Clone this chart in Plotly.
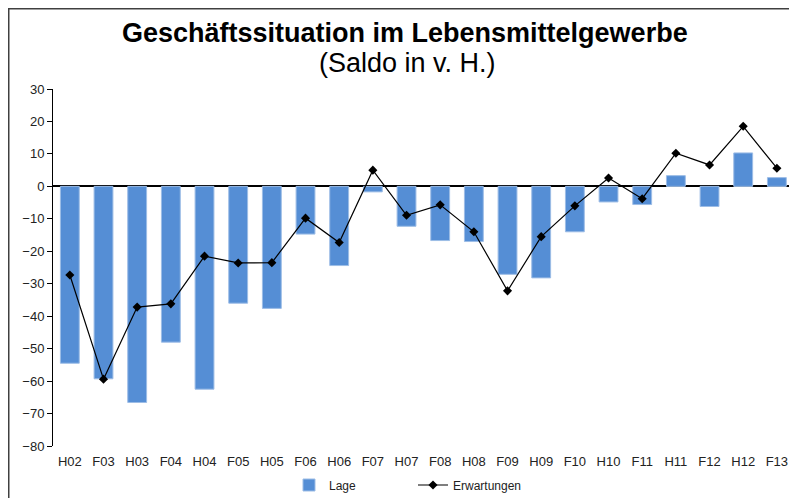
import plotly.graph_objects as go

categories = ["H02", "F03", "H03", "F04", "H04", "F05", "H05", "F06", "H06", "F07", "H07",
              "F08", "H08", "F09", "H09", "F10", "H10", "F11", "H11", "F12", "H12", "F13"]
lage = [-54.5, -59.3, -66.6, -48.0, -62.5, -36.0, -37.6, -14.7, -24.4, -1.7, -12.3,
        -16.7, -17.0, -27.1, -28.2, -14.0, -4.8, -5.6, 3.3, -6.2, 10.3, 2.7]
erwartungen = [-27.3, -59.4, -37.2, -36.2, -21.5, -23.6, -23.5, -9.8, -17.3, 5.0, -8.9,
               -5.7, -14.0, -32.2, -15.5, -6.0, 2.6, -3.8, 10.2, 6.6, 18.5, 5.6]
y_ticks = [30, 20, 10, 0, -10, -20, -30, -40, -50, -60, -70, -80]

FONT = "Liberation Sans, Arial, sans-serif"

fig = go.Figure()
fig.add_trace(go.Bar(
    x=categories, y=lage, name="Lage",
    marker=dict(color="#558ED5", line=dict(color="#9DBDE6", width=1)),
))
fig.add_trace(go.Scatter(
    x=categories, y=erwartungen, name="Erwartungen", mode="lines+markers",
    line=dict(color="#000000", width=1.2),
    marker=dict(symbol="diamond", size=7, color="#000000"),
))

# page body has an 8px margin, so figure coords = window coords - 8
W, H = 781, 490
L, T, B = 45, 81, 52
pw = W - L
ph = H - T - B

def px_x(p):
    return (p - L) / pw

def px_y(p):
    return (H - B - p) / ph

fig.update_layout(
    width=W, height=H,
    margin=dict(l=L, r=0, t=T, b=B, autoexpand=False),
    paper_bgcolor="white", plot_bgcolor="white",
    font=dict(family=FONT, size=13, color="#222222"),
    bargap=0.44,
    showlegend=True,
    legend=dict(orientation="h", x=px_x(281), y=px_y(477), xanchor="left", yanchor="middle",
                font=dict(size=12, color="#222222"), entrywidth=79, entrywidthmode="pixels",
                bgcolor="rgba(0,0,0,0)"),
    xaxis=dict(
        type="category", range=[-0.5, 21.36], showline=False, showgrid=False,
        ticks="", tickfont=dict(size=13, color="#222222"), ticklabelstandoff=6,
    ),
    yaxis=dict(
        range=[-80, 30], tickvals=y_ticks, showgrid=False,
        showline=True, linecolor="#000000", linewidth=1,
        ticks="outside", ticklen=5, tickcolor="#000000",
        zeroline=True, zerolinecolor="#000000", zerolinewidth=1.5,
        tickfont=dict(size=13, color="#222222"),
    ),
    annotations=[
        dict(text="<b>Geschäftssituation im Lebensmittelgewerbe</b>", xref="paper", yref="paper",
             x=px_x(397), y=px_y(25), xanchor="center", yanchor="middle", showarrow=False,
             font=dict(family=FONT, size=27, color="#000000")),
        dict(text="(Saldo in v. H.)", xref="paper", yref="paper",
             x=px_x(399), y=px_y(55), xanchor="center", yanchor="middle", showarrow=False,
             font=dict(family=FONT, size=27, color="#000000")),
    ],
    shapes=[
        dict(type="rect", xref="paper", yref="paper",
             x0=px_x(0.5), x1=px_x(810), y0=px_y(510), y1=px_y(0.5),
             line=dict(color="#404040", width=2), fillcolor="rgba(0,0,0,0)", layer="above"),
    ],
)

fig.write_html("out.html")
